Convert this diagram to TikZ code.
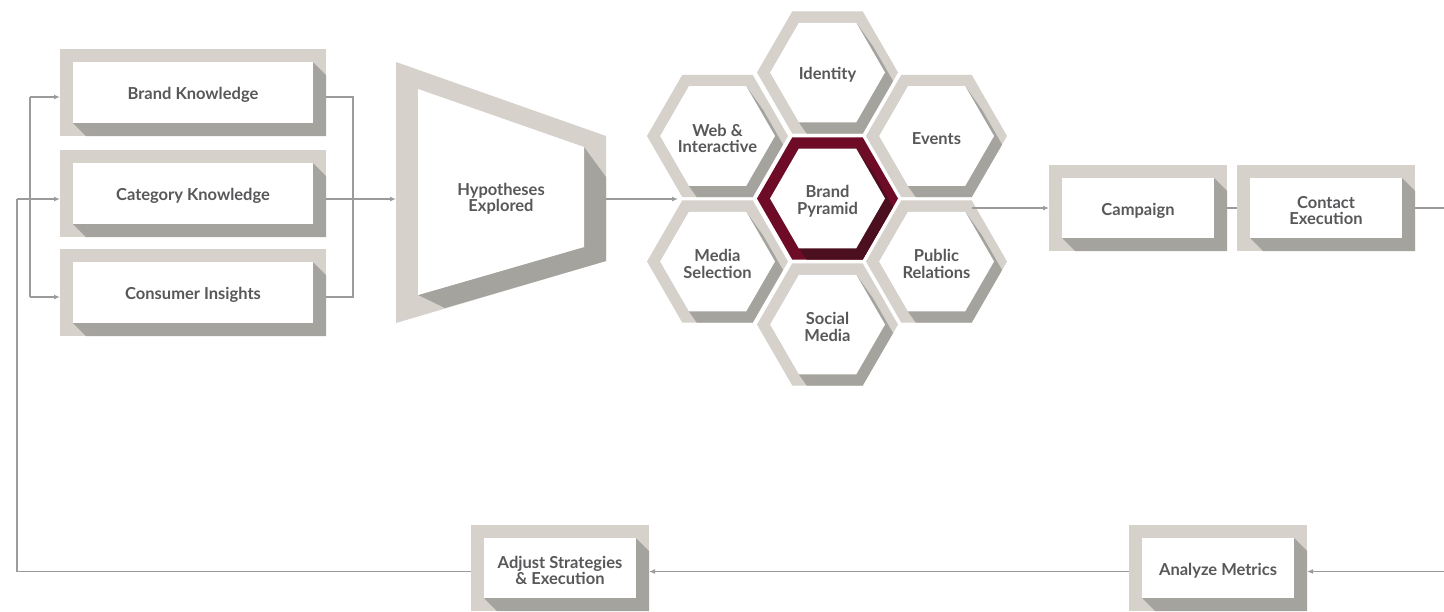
\documentclass[tikz,border=0pt]{standalone}
\usepackage{fontspec}
\setmainfont{Lato}
\usetikzlibrary{calc,arrows.meta}
\definecolor{lightc}{HTML}{D6D1CB}
\definecolor{darkc}{HTML}{A5A39E}
\definecolor{maroon}{HTML}{6E0B26}
\definecolor{dmaroon}{HTML}{4B0F1F}
\definecolor{txtc}{HTML}{58585A}
\definecolor{linec}{HTML}{9B9B9B}
\tikzset{
  outerbox/.style={fill=lightc,inner sep=0pt,outer sep=0pt},
  innerbox/.style={fill=white,inner sep=0pt,outer sep=0pt},
  txt/.style={align=center,text=txtc,inner sep=0pt,yshift=-2.5pt,font=\fontsize{16.5}{16.5}\selectfont\bfseries},
  conn/.style={draw=linec,line width=1.6pt},
  arr/.style={conn,-{Latex[length=6pt,width=5pt]}},
}
\newcommand\shbox[6]{%
  \node[outerbox,minimum width=#4pt,minimum height=#5pt] (#1o) at (#2,#3) {};
  \fill[darkc] ($(#1o.north east)+(-13,13)$) -- ($(#1o.north east)+(0,26)$) -- (#1o.south east)
     -- ($(#1o.south west)+(26,0)$) -- ($(#1o.south west)+(13,-13)$) -- cycle;
  \pgfmathsetmacro\iw{#4-26}\pgfmathsetmacro\ih{#5-26}%
  \node[innerbox,minimum width=\iw pt,minimum height=\ih pt] (#1i) at (#2,#3) {};
  \node[txt] (#1) at (#2,#3) {#6};
}
\newcommand\hexcell[6]{%
  \begin{scope}[shift={(#2,#3)}]
    \fill[#4] (70.5,0) -- (35.25,61.05) -- (-35.25,61.05) -- (-70.5,0) -- (-35.25,-61.05) -- (35.25,-61.05) -- cycle;
    \begin{scope}
      \clip (70.5,0) -- (35.25,61.05) -- (-35.25,61.05) -- (-70.5,0) -- (-35.25,-61.05) -- (35.25,-61.05) -- cycle;
      \fill[#5] (28.75,-49.8) -- (45.75,-25.8) -- (74.5,24) -- (45.75,73.8) -- (-11.75,73.8) -- (-28.75,49.8) -- (-57.5,0) -- (-28.75,-49.8) -- cycle;
    \end{scope}
    \fill[white] (57.5,0) -- (28.75,49.8) -- (-28.75,49.8) -- (-57.5,0) -- (-28.75,-49.8) -- (28.75,-49.8) -- cycle;
  \end{scope}
  \node[txt] (#1) at (#2,#3) {#6};
}
\begin{document}
\begin{tikzpicture}[x=1pt,y=-1pt]
\useasboundingbox[fill=white] (0,0) rectangle (1444,611);

% left boxes
\shbox{bk}{193}{92.5}{266}{87}{Brand Knowledge}
\shbox{ck}{193}{193.5}{266}{87}{Category Knowledge}
\shbox{ci}{193}{292.5}{266}{87}{Consumer Insights}

% trapezoid
\fill[lightc] (396,62) -- (606,136) -- (606,261) -- (396,323) -- cycle;
\fill[darkc] (584,147) -- (606,177) -- (606,261) -- (445,308) -- (418,295) -- (584,247) -- cycle;
\fill[white] (418,89) -- (584,147) -- (584,247) -- (418,295) -- cycle;
\node[txt] (hyp) at (501,196) {Hypotheses\\Explored};
\coordinate (hypL) at (396,199);
\coordinate (hypR) at (606,199);

% hexagons
\hexcell{idn}{827.5}{72.5}{lightc}{darkc}{Identity}
\hexcell{web}{717.5}{136}{lightc}{darkc}{Web \&\\Interactive}
\hexcell{evt}{936.5}{136}{lightc}{darkc}{Events}
\hexcell{med}{717.5}{261.5}{lightc}{darkc}{Media\\Selection}
\hexcell{pr}{936.5}{261.5}{lightc}{darkc}{Public\\Relations}
\hexcell{soc}{827.5}{324.5}{lightc}{darkc}{Social\\Media}
\hexcell{bp}{827.5}{198.5}{maroon}{dmaroon}{Brand\\Pyramid}
\coordinate (hexin) at (678,199);
\coordinate (hexout) at (972,208);

% right boxes
\shbox{cam}{1138}{208}{178}{86}{Campaign}
\shbox{ce}{1326}{208}{178}{86}{Contact\\Execution}
\shbox{am}{1218}{568}{178}{86}{Analyze Metrics}
\shbox{adj}{560}{568}{178}{86}{Adjust Strategies\\\& Execution}

% connectors
\coordinate (lt) at (30,97);
\coordinate (lb) at (30,297);
\coordinate (rt) at (353,97);
\coordinate (rb) at (353,297);
\coordinate (fbb) at (17,571.5);
\coordinate (fbt) at (17,199);
\coordinate (edgeT) at (1444,208);
\coordinate (edgeB) at (1444,571.5);

\draw[conn] (lt) -- (lb);
\draw[arr] (lt) -- (lt -| bko.west);
\draw[arr] (lb) -- (lb -| cio.west);
\draw[conn] (adjo.west |- fbb) -- (fbb) -- (fbt);
\draw[arr] (fbt) -- (fbt -| cko.west);

\draw[conn] (rt -| bko.east) -- (rt) -- (rb) -- (rb -| cio.east);
\draw[arr] (fbt -| cko.east) -- (hypL);
\draw[arr] (hypR) -- (hexin);
\draw[arr] (hexout) -- (hexout -| camo.west);
\draw[conn] (camo.east) -- (ceo.west);
\draw[conn] (ceo.east) -- (edgeT);
\draw[arr] (edgeB) -- (edgeB -| amo.east);
\draw[arr] (amo.west |- edgeB) -- (edgeB -| adjo.east);
\end{tikzpicture}
\end{document}
